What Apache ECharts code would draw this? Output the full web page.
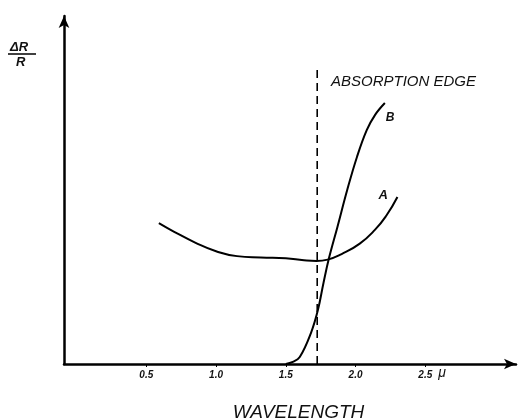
<!DOCTYPE html>
<html>
<head>
<meta charset="utf-8">
<script src="https://cdn.jsdelivr.net/npm/echarts@6/dist/echarts.min.js"></script>
<style>
  html, body { margin: 0; padding: 0; background: #fff; }
  #main { width: 523px; height: 420px; }
</style>
</head>
<body>
<div id="main"></div>
<script>
// tick labels on the wavelength axis (microns)
var tickValues = [0.5, 1.0, 1.5, 2.0, 2.5];

// curve A
var aWave = [0.59, 0.70, 0.85, 1.00, 1.15, 1.32, 1.50, 1.63, 1.72, 1.80, 1.90, 2.03, 2.14, 2.22, 2.30];
var aVal  = [40.5, 38.0, 34.9, 32.4, 31.0, 30.6, 30.4, 29.8, 29.6, 30.0, 31.6, 34.6, 38.6, 42.6, 48.0];

// curve B
var bWave = [1.50, 1.55, 1.60, 1.68, 1.73, 1.77, 1.81, 1.87, 1.94, 2.01, 2.08, 2.14, 2.21];
var bVal  = [0.0, 0.6, 2.0, 8.9, 15.5, 23.3, 30.5, 39.4, 50.0, 59.5, 67.2, 71.6, 75.0];

// absorption edge
var edgeWave = [1.725, 1.725];
var edgeVal  = [0, 85];

function pairs(xs, ys) {
    return xs.map(function(x, i) { return [x, ys[i]]; });
}

var font = 'Liberation Sans';
var myChart = echarts.init(document.getElementById('main'));
var option = {
    backgroundColor: '#fff',
    animation: false,
    grid: { left: 64, right: 7, top: 16, bottom: 56, outerBoundsMode: 'none', containLabel: false },
    xAxis: {
        type: 'value',
        min: -0.09,
        max: 3.15,
        name: 'WAVELENGTH',
        nameLocation: 'middle',
        nameGap: 39,
        nameTextStyle: {
            fontFamily: font, fontStyle: 'italic', fontSize: 19, color: '#111',
            padding: [0, 0, 0, 17]
        },
        splitLine: { show: false },
        axisLine: {
            onZero: false,
            symbol: ['none', 'arrow'],
            symbolSize: [8, 12],
            lineStyle: { color: '#000', width: 2.5 }
        },
        axisTick: {
            show: true, length: 3, customValues: tickValues,
            lineStyle: { color: '#000', width: 1 }
        },
        axisLabel: {
            customValues: tickValues,
            margin: 6,
            fontFamily: font, fontStyle: 'italic', fontWeight: 'bold', fontSize: 10, color: '#111',
            formatter: function(v) { return v.toFixed(1); }
        }
    },
    yAxis: {
        type: 'value',
        min: 0,
        max: 100,
        splitLine: { show: false },
        axisTick: { show: false },
        axisLabel: { show: false },
        axisLine: {
            show: true,
            onZero: false,
            symbol: ['none', 'arrow'],
            symbolSize: [8, 12],
            lineStyle: { color: '#000', width: 2.5 }
        }
    },
    series: [{
        name: 'A',
        type: 'line',
        smooth: 0.5,
        symbol: 'none',
        data: pairs(aWave, aVal),
        lineStyle: { color: '#000', width: 2 },
        endLabel: {
            show: true, formatter: 'A', offset: [-27, -2],
            fontFamily: font, fontStyle: 'italic', fontWeight: 'bold', fontSize: 13, color: '#111'
        }
    }, {
        name: 'B',
        type: 'line',
        smooth: 0.4,
        symbol: 'none',
        data: pairs(bWave, bVal),
        lineStyle: { color: '#000', width: 2 },
        endLabel: {
            show: true, formatter: 'B', offset: [-7, 15],
            fontFamily: font, fontStyle: 'italic', fontWeight: 'bold', fontSize: 12, color: '#111'
        },
        markPoint: {
            symbol: 'circle',
            symbolSize: 2,
            itemStyle: { color: 'rgba(0,0,0,0)' },
            label: {
                show: true, position: 'inside', formatter: 'μ', offset: [0, 9],
                fontFamily: font, fontStyle: 'italic', fontSize: 14, color: '#111'
            },
            data: [{ coord: [2.62, 0] }]
        }
    }, {
        name: 'edge',
        type: 'line',
        symbol: 'none',
        data: pairs(edgeWave, edgeVal),
        lineStyle: { color: '#000', width: 1.6, type: [8, 5] }
    }],
    graphic: [{
        type: 'text', left: 331, top: 74,
        style: { text: 'ABSORPTION EDGE', font: 'italic 15px "Liberation Sans"', fill: '#111' }
    }, {
        type: 'text', left: 10, top: 41,
        style: { text: 'ΔR', font: 'italic bold 13px "Liberation Sans"', fill: '#111' }
    }, {
        type: 'line', shape: { x1: 8, y1: 54, x2: 36, y2: 54 },
        style: { stroke: '#000', lineWidth: 1.5 }
    }, {
        type: 'text', left: 16, top: 56,
        style: { text: 'R', font: 'italic bold 13px "Liberation Sans"', fill: '#111' }
    }]
};
myChart.setOption(option);
</script>
</body>
</html>
